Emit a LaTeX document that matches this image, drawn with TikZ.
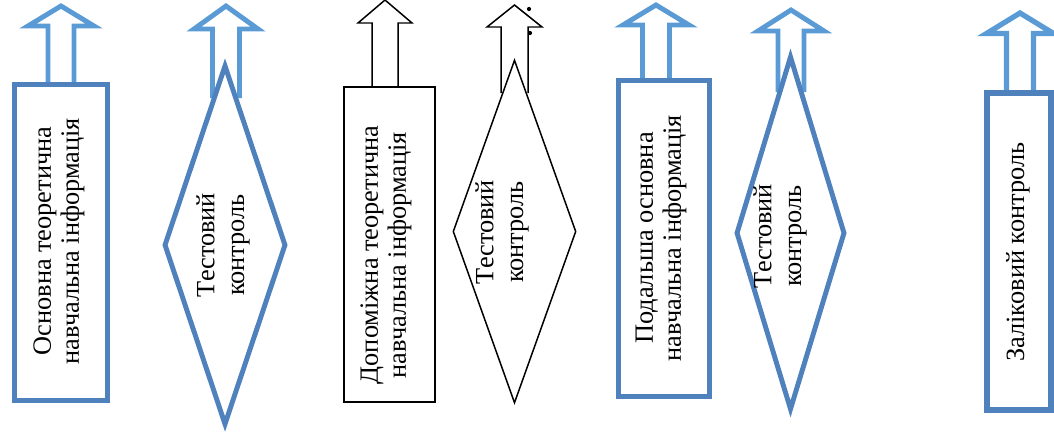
\documentclass[tikz,border=0pt]{standalone}
\usepackage{fontspec}
\setmainfont{Liberation Serif}
\usepackage{tikz}
\usetikzlibrary{shapes.geometric}
\definecolor{boxblue}{HTML}{4F81BD}
\definecolor{arrowblue}{HTML}{5B9BD5}

\begin{document}
\begin{tikzpicture}[x=0.02cm, y=-0.02cm,
    blockbox/.style 2 args={draw, fill=white, inner sep=0pt,
      minimum width=#1*0.02cm, minimum height=#2*0.02cm},
    blockdiam/.style 2 args={diamond, draw, fill=white, inner sep=0pt,
      minimum width=#1*0.02cm, minimum height=#2*0.02cm},
    bluepart/.style={draw=boxblue, line width=2.8pt},
    blackpart/.style={draw=black, line width=0.85pt},
    captxt/.style={rotate=90, align=center, inner sep=0pt,
      font=\fontsize{15}{16}\selectfont},
    diamtxt/.style={captxt, font=\fontsize{15}{17}\selectfont}]
        \clip (0,0) rectangle (1054,443);

        % hollow arrows, drawn first so the shapes cover their feet
        \foreach \cx/\tip/\base/\hh/\hs/\bot/\col/\lw in {
            61/6/26/33/13/86/arrowblue/2.8pt,
            226/6/29/32/13.5/98/arrowblue/2.8pt,
            385/0/23/27/13/87/black/0.85pt,
            514.5/5/27/27.5/13.5/93/black/0.85pt,
            656/5/25/33/13.5/81/arrowblue/2.8pt,
            791/10/31/33/13/92/arrowblue/2.8pt,
            1020/13/33.5/33.5/13.5/93/arrowblue/3pt}
          \draw[draw=\col, line width=\lw]
            (\cx-\hs,\bot) -- (\cx-\hs,\base) -- (\cx-\hh,\base) -- (\cx,\tip)
            -- (\cx+\hh,\base) -- (\cx+\hs,\base) -- (\cx+\hs,\bot);

        \node[circle, fill, inner sep=0pt, minimum size=2.4pt] (dotA) at (529,9) {};
        \node[circle, fill, inner sep=0pt, minimum size=2.4pt] (dotB) at (530,33) {};

        % boxes and diamonds
        \node[blockbox={93}{316}, bluepart] (box1) at (61,242.5) {};
        \node[blockdiam={122}{360}, bluepart] (diam1) at (225,245) {};
        \node[blockbox={91}{315}, blackpart] (box2) at (389.5,244.5) {};
        \node[blockdiam={123}{343}, blackpart] (diam2) at (514.5,231.5) {};
        \node[blockbox={91}{316}, bluepart] (box3) at (664,238.5) {};
        \node[blockdiam={109}{354}, bluepart] (diam3) at (790.5,233) {};
        \node[blockbox={64}{317}, bluepart, line width=3.2pt] (box4) at (1019,251.5) {};

        % texts
        \node[captxt] (t1) at (59,241) {Основна теоретична\\навчальна інформація};
        \node[diamtxt] (t2) at (223,245) {Тестовий\\контроль};
        \node[captxt] (t3) at (386,255) {Допоміжна теоретична\\навчальна інформація};
        \node[diamtxt] (t4) at (502,232) {Тестовий\\контроль};
        \node[captxt] (t5) at (661,238) {Подальша основна\\навчальна інформація};
        \node[diamtxt] (t6) at (780,236) {Тестовий\\контроль};
        \node[captxt] (t7) at (1018,252) {Заліковий контроль};
\end{tikzpicture}
\end{document}
